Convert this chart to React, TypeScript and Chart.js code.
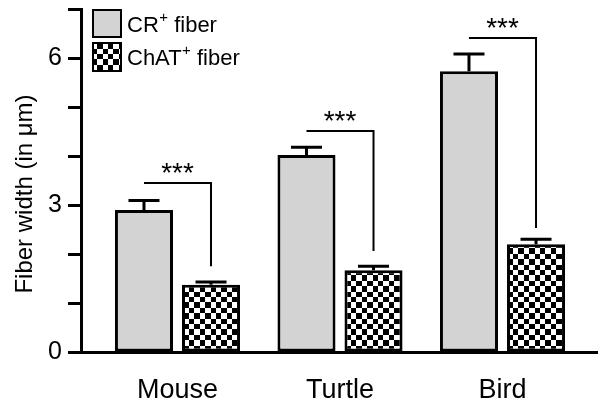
import React, { useEffect, useRef } from 'react';
import { Chart, registerables } from 'chart.js';

Chart.register(...registerables);

const categories = ['Mouse', 'Turtle', 'Bird'];
const crValues = [2.9, 4.02, 5.73];
const crErrors = [0.19, 0.16, 0.35];
const chatValues = [1.37, 1.67, 2.2];
const chatErrors = [0.06, 0.08, 0.1];
const yTickLabels = [0, 3, 6];
const sigLabels = ['***', '***', '***'];
const sigTop = [3.45, 4.51, 6.41];
const sigBottom = [1.75, 2.06, 2.53];
const legendMain = ['CR', 'ChAT'];
const legendSup = '+';
const legendSuffix = ' fiber';

const FONT = '"Liberation Sans", Arial, Helvetica, sans-serif';
const GRAY = '#d3d3d3';

function makeChecker(): CanvasPattern | string {
  const n = 10;
  const size = 54;
  const c = document.createElement('canvas');
  c.width = size;
  c.height = size;
  const g = c.getContext('2d');
  if (!g) return '#888';
  g.fillStyle = '#fff';
  g.fillRect(0, 0, size, size);
  g.fillStyle = '#000';
  for (let i = 0; i < n; i++) {
    for (let j = 0; j < n; j++) {
      if ((i + j) % 2 === 0) {
        const x0 = Math.round((i * size) / n);
        const x1 = Math.round(((i + 1) * size) / n);
        const y0 = Math.round((j * size) / n);
        const y1 = Math.round(((j + 1) * size) / n);
        g.fillRect(x0, y0, x1 - x0, y1 - y0);
      }
    }
  }
  return g.createPattern(c, 'repeat') || '#888';
}

export default function App() {
  const ref = useRef<HTMLCanvasElement | null>(null);

  useEffect(() => {
    document.body.style.margin = '0';
    const canvas = ref.current;
    if (!canvas) return;
    const checker = makeChecker();

    const overlay = {
      id: 'overlay',
      afterDatasetsDraw(chart: any) {
        const ctx: CanvasRenderingContext2D = chart.ctx;
        const ys = chart.scales.y;
        const m0 = chart.getDatasetMeta(0);
        const m1 = chart.getDatasetMeta(1);
        ctx.save();
        ctx.strokeStyle = '#000';
        ctx.fillStyle = '#000';
        ctx.lineCap = 'butt';
        // error bars
        const sets: [any, number[], number[]][] = [
          [m0, crValues, crErrors],
          [m1, chatValues, chatErrors],
        ];
        sets.forEach(([meta, vals, errs]) => {
          meta.data.forEach((bar: any, i: number) => {
            const x = bar.x;
            const top = ys.getPixelForValue(vals[i]);
            const cap = ys.getPixelForValue(vals[i] + errs[i]);
            ctx.lineWidth = 3;
            ctx.beginPath();
            ctx.moveTo(x, top);
            ctx.lineTo(x, cap);
            ctx.moveTo(x - 15.5, cap);
            ctx.lineTo(x + 15.5, cap);
            ctx.stroke();
          });
        });
        // significance brackets
        ctx.lineWidth = 2;
        ctx.lineJoin = 'miter';
        for (let i = 0; i < categories.length; i++) {
          const x0 = m0.data[i].x;
          const x1 = m1.data[i].x;
          const yt = ys.getPixelForValue(sigTop[i]);
          const yb = ys.getPixelForValue(sigBottom[i]);
          ctx.beginPath();
          ctx.moveTo(x0, yt);
          ctx.lineTo(x1, yt);
          ctx.lineTo(x1, yb);
          ctx.stroke();
          ctx.font = `28px ${FONT}`;
          ctx.textAlign = 'center';
          ctx.textBaseline = 'alphabetic';
          ctx.fillText(sigLabels[i], (x0 + x1) / 2, yt - 1);
        }
        // legend
        const boxes = [
          { y: 10, h: 27, fill: GRAY as any },
          { y: 43, h: 28, fill: checker as any },
        ];
        boxes.forEach((b, i) => {
          ctx.fillStyle = b.fill;
          ctx.fillRect(93, b.y, 28, b.h);
          ctx.lineWidth = 2;
          ctx.strokeStyle = '#000';
          ctx.strokeRect(93, b.y, 28, b.h);
          ctx.fillStyle = '#000';
          ctx.textAlign = 'left';
          ctx.textBaseline = 'alphabetic';
          const base = b.y + b.h / 2 + 8;
          let x = 127;
          ctx.font = `22px ${FONT}`;
          ctx.fillText(legendMain[i], x, base);
          x += ctx.measureText(legendMain[i]).width + 0.5;
          ctx.font = `15px ${FONT}`;
          ctx.fillText(legendSup, x, base - 10);
          x += ctx.measureText(legendSup).width;
          ctx.font = `22px ${FONT}`;
          ctx.fillText(legendSuffix, x, base);
        });
        // y title
        ctx.save();
        ctx.translate(32, 194);
        ctx.rotate(-Math.PI / 2);
        ctx.font = `24px ${FONT}`;
        ctx.textAlign = 'center';
        ctx.textBaseline = 'alphabetic';
        ctx.fillStyle = '#000';
        ctx.fillText('Fiber width (in \u03bcm)', 0, 0);
        ctx.restore();
        ctx.restore();
      },
    };

    const chart = new Chart(canvas, {
      type: 'bar',
      data: {
        datasets: [
          {
            label: 'CR+ fiber',
            data: categories.map((_, i) => ({ x: i, y: crValues[i] })),
            backgroundColor: GRAY,
            borderColor: '#000',
            borderWidth: 3,
            borderSkipped: false,
            categoryPercentage: 0.825,
            barPercentage: 0.866,
          },
          {
            label: 'ChAT+ fiber',
            data: categories.map((_, i) => ({ x: i, y: chatValues[i] })),
            backgroundColor: checker as any,
            borderColor: '#000',
            borderWidth: 3,
            borderSkipped: false,
            categoryPercentage: 0.825,
            barPercentage: 0.866,
          },
        ],
      } as any,
      options: {
        responsive: false,
        devicePixelRatio: 1,
        animation: false,
        layout: { padding: { top: 9, right: 7, bottom: 0, left: 0 } },
        plugins: {
          legend: { display: false },
          tooltip: { enabled: false },
          title: { display: false },
        },
        scales: {
          x: {
            type: 'linear',
            offset: false,
            min: -0.5938,
            max: 2.5815,
            grid: { display: false, drawTicks: false, offset: false },
            border: { display: true, color: '#000', width: 3 },
            afterBuildTicks: (scale: any) => {
              scale.ticks = categories.map((_, i) => ({ value: i }));
            },
            afterFit: (scale: any) => {
              scale.height = 56;
              scale.paddingLeft = 0;
              scale.paddingRight = 0;
            },
            ticks: {
              autoSkip: false,
              maxRotation: 0,
              padding: 22,
              color: '#000',
              font: { family: FONT, size: 27 },
              callback: (v: any) => categories[Math.round(Number(v))] ?? '',
            },
          },
          y: {
            min: 0,
            max: 7,
            grid: {
              display: true,
              drawOnChartArea: false,
              drawTicks: true,
              tickLength: 13,
              tickColor: '#000',
              tickWidth: 3,
            },
            border: { display: true, color: '#000', width: 3 },
            afterFit: (scale: any) => {
              scale.width = 81;
              scale.paddingTop = 0;
              scale.paddingBottom = 0;
            },
            ticks: {
              stepSize: 1,
              autoSkip: false,
              padding: 6,
              color: '#000',
              font: { family: FONT, size: 25 },
              callback: (v: any) => (yTickLabels.includes(Number(v)) ? String(v) : ''),
            },
          },
        },
      } as any,
      plugins: [overlay],
    });
    return () => chart.destroy();
  }, []);

  return (
    <div style={{ width: 604, height: 408 }}>
      <canvas ref={ref} width={604} height={408} style={{ display: 'block' }} />
    </div>
  );
}
